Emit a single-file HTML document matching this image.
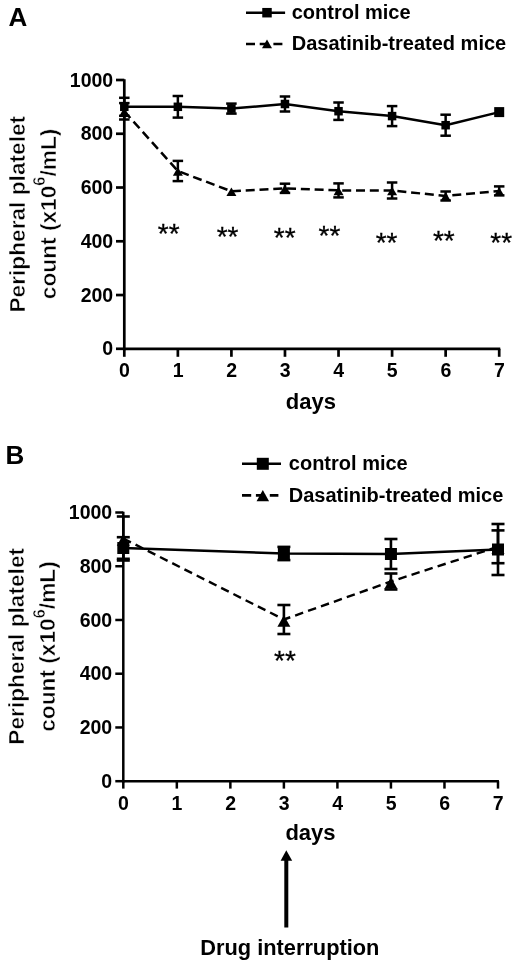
<!DOCTYPE html>
<html><head><meta charset="utf-8"><style>
html,body{margin:0;padding:0;background:#fff;width:520px;height:966px;overflow:hidden}
svg{display:block;filter:grayscale(1)}
text{font-family:"Liberation Sans",sans-serif;font-weight:bold;fill:#000}
</style></head><body>
<svg width="520" height="966" viewBox="0 0 520 966">
<rect width="520" height="966" fill="#fff"/>
<line x1="124.30" y1="79.15" x2="124.30" y2="350.15" stroke="#000" stroke-width="2.7"/>
<line x1="122.95" y1="348.80" x2="500.25" y2="348.80" stroke="#000" stroke-width="2.7"/>
<line x1="116.00" y1="348.80" x2="124.30" y2="348.80" stroke="#000" stroke-width="2.7"/>
<text x="113.20" y="355.40" font-size="19.5" text-anchor="end" >0</text>
<line x1="116.00" y1="295.04" x2="124.30" y2="295.04" stroke="#000" stroke-width="2.7"/>
<text x="113.20" y="301.64" font-size="19.5" text-anchor="end" >200</text>
<line x1="116.00" y1="241.28" x2="124.30" y2="241.28" stroke="#000" stroke-width="2.7"/>
<text x="113.20" y="247.88" font-size="19.5" text-anchor="end" >400</text>
<line x1="116.00" y1="187.52" x2="124.30" y2="187.52" stroke="#000" stroke-width="2.7"/>
<text x="113.20" y="194.12" font-size="19.5" text-anchor="end" >600</text>
<line x1="116.00" y1="133.76" x2="124.30" y2="133.76" stroke="#000" stroke-width="2.7"/>
<text x="113.20" y="140.36" font-size="19.5" text-anchor="end" >800</text>
<line x1="116.00" y1="80.00" x2="124.30" y2="80.00" stroke="#000" stroke-width="2.7"/>
<text x="113.20" y="86.60" font-size="19.5" text-anchor="end" >1000</text>
<line x1="124.30" y1="348.80" x2="124.30" y2="356.80" stroke="#000" stroke-width="2.7"/>
<text x="124.50" y="377.00" font-size="19.5" text-anchor="middle" >0</text>
<line x1="177.86" y1="348.80" x2="177.86" y2="356.80" stroke="#000" stroke-width="2.7"/>
<text x="178.06" y="377.00" font-size="19.5" text-anchor="middle" >1</text>
<line x1="231.41" y1="348.80" x2="231.41" y2="356.80" stroke="#000" stroke-width="2.7"/>
<text x="231.61" y="377.00" font-size="19.5" text-anchor="middle" >2</text>
<line x1="284.97" y1="348.80" x2="284.97" y2="356.80" stroke="#000" stroke-width="2.7"/>
<text x="285.17" y="377.00" font-size="19.5" text-anchor="middle" >3</text>
<line x1="338.53" y1="348.80" x2="338.53" y2="356.80" stroke="#000" stroke-width="2.7"/>
<text x="338.73" y="377.00" font-size="19.5" text-anchor="middle" >4</text>
<line x1="392.09" y1="348.80" x2="392.09" y2="356.80" stroke="#000" stroke-width="2.7"/>
<text x="392.29" y="377.00" font-size="19.5" text-anchor="middle" >5</text>
<line x1="445.64" y1="348.80" x2="445.64" y2="356.80" stroke="#000" stroke-width="2.7"/>
<text x="445.84" y="377.00" font-size="19.5" text-anchor="middle" >6</text>
<line x1="499.20" y1="348.80" x2="499.20" y2="356.80" stroke="#000" stroke-width="2.7"/>
<text x="499.40" y="377.00" font-size="19.5" text-anchor="middle" >7</text>
<text x="310.80" y="408.50" font-size="22" text-anchor="middle" >days</text>
<text x="8.40" y="26.00" font-size="26" text-anchor="start" >A</text>
<text transform="translate(25.00,214.20) rotate(-90)" font-size="22.7" text-anchor="middle" stroke="#fff" stroke-width="0.5">Peripheral platelet</text>
<text transform="translate(55.80,213.90) rotate(-90)" font-size="22.7" text-anchor="middle" stroke="#fff" stroke-width="0.5">count (x10<tspan font-size="16.5" dy="-10.5">6</tspan><tspan dy="10.5">/mL)</tspan></text>
<line x1="246.00" y1="12.70" x2="285.10" y2="12.70" stroke="#000" stroke-width="2.5"/>
<rect x="262.25" y="7.95" width="9.5" height="9.5" fill="#000"/>
<line x1="246.00" y1="43.90" x2="282.40" y2="43.90" stroke="#000" stroke-width="2.5" stroke-dasharray="9 4.7"/>
<polygon points="267.00,39.55 272.00,48.25 262.00,48.25" fill="#000"/>
<text x="291.70" y="18.50" font-size="20" text-anchor="start" >control mice</text>
<text x="291.70" y="50.00" font-size="20" text-anchor="start" >Dasatinib-treated mice</text>
<polyline points="124.30,111.30 177.86,171.00 231.41,191.30 284.97,188.30 338.53,190.40 392.09,190.50 445.64,196.00 499.20,190.90" fill="none" stroke="#000" stroke-width="2.5" stroke-linejoin="round" stroke-dasharray="9 4.8"/>
<polyline points="124.30,106.80 177.86,106.80 231.41,108.60 284.97,104.00 338.53,111.20 392.09,116.10 445.64,125.20 499.20,112.10" fill="none" stroke="#000" stroke-width="2.5" stroke-linejoin="round"/>
<line x1="124.30" y1="103.10" x2="124.30" y2="119.50" stroke="#000" stroke-width="2.5"/>
<line x1="119.05" y1="103.10" x2="129.55" y2="103.10" stroke="#000" stroke-width="2.5"/>
<line x1="119.05" y1="119.50" x2="129.55" y2="119.50" stroke="#000" stroke-width="2.5"/>
<line x1="177.86" y1="160.90" x2="177.86" y2="181.10" stroke="#000" stroke-width="2.5"/>
<line x1="172.61" y1="160.90" x2="183.11" y2="160.90" stroke="#000" stroke-width="2.5"/>
<line x1="172.61" y1="181.10" x2="183.11" y2="181.10" stroke="#000" stroke-width="2.5"/>
<line x1="284.97" y1="183.70" x2="284.97" y2="192.90" stroke="#000" stroke-width="2.5"/>
<line x1="279.72" y1="183.70" x2="290.22" y2="183.70" stroke="#000" stroke-width="2.5"/>
<line x1="279.72" y1="192.90" x2="290.22" y2="192.90" stroke="#000" stroke-width="2.5"/>
<line x1="338.53" y1="183.40" x2="338.53" y2="197.40" stroke="#000" stroke-width="2.5"/>
<line x1="333.28" y1="183.40" x2="343.78" y2="183.40" stroke="#000" stroke-width="2.5"/>
<line x1="333.28" y1="197.40" x2="343.78" y2="197.40" stroke="#000" stroke-width="2.5"/>
<line x1="392.09" y1="182.50" x2="392.09" y2="198.50" stroke="#000" stroke-width="2.5"/>
<line x1="386.84" y1="182.50" x2="397.34" y2="182.50" stroke="#000" stroke-width="2.5"/>
<line x1="386.84" y1="198.50" x2="397.34" y2="198.50" stroke="#000" stroke-width="2.5"/>
<line x1="445.64" y1="191.50" x2="445.64" y2="200.50" stroke="#000" stroke-width="2.5"/>
<line x1="440.39" y1="191.50" x2="450.89" y2="191.50" stroke="#000" stroke-width="2.5"/>
<line x1="440.39" y1="200.50" x2="450.89" y2="200.50" stroke="#000" stroke-width="2.5"/>
<line x1="499.20" y1="186.40" x2="499.20" y2="195.40" stroke="#000" stroke-width="2.5"/>
<line x1="493.95" y1="186.40" x2="504.45" y2="186.40" stroke="#000" stroke-width="2.5"/>
<line x1="493.95" y1="195.40" x2="504.45" y2="195.40" stroke="#000" stroke-width="2.5"/>
<line x1="124.30" y1="97.80" x2="124.30" y2="115.80" stroke="#000" stroke-width="2.5"/>
<line x1="119.05" y1="97.80" x2="129.55" y2="97.80" stroke="#000" stroke-width="2.5"/>
<line x1="119.05" y1="115.80" x2="129.55" y2="115.80" stroke="#000" stroke-width="2.5"/>
<line x1="177.86" y1="96.00" x2="177.86" y2="117.60" stroke="#000" stroke-width="2.5"/>
<line x1="172.61" y1="96.00" x2="183.11" y2="96.00" stroke="#000" stroke-width="2.5"/>
<line x1="172.61" y1="117.60" x2="183.11" y2="117.60" stroke="#000" stroke-width="2.5"/>
<line x1="231.41" y1="103.60" x2="231.41" y2="113.60" stroke="#000" stroke-width="2.5"/>
<line x1="226.16" y1="103.60" x2="236.66" y2="103.60" stroke="#000" stroke-width="2.5"/>
<line x1="226.16" y1="113.60" x2="236.66" y2="113.60" stroke="#000" stroke-width="2.5"/>
<line x1="284.97" y1="96.50" x2="284.97" y2="111.50" stroke="#000" stroke-width="2.5"/>
<line x1="279.72" y1="96.50" x2="290.22" y2="96.50" stroke="#000" stroke-width="2.5"/>
<line x1="279.72" y1="111.50" x2="290.22" y2="111.50" stroke="#000" stroke-width="2.5"/>
<line x1="338.53" y1="102.50" x2="338.53" y2="119.90" stroke="#000" stroke-width="2.5"/>
<line x1="333.28" y1="102.50" x2="343.78" y2="102.50" stroke="#000" stroke-width="2.5"/>
<line x1="333.28" y1="119.90" x2="343.78" y2="119.90" stroke="#000" stroke-width="2.5"/>
<line x1="392.09" y1="106.10" x2="392.09" y2="126.10" stroke="#000" stroke-width="2.5"/>
<line x1="386.84" y1="106.10" x2="397.34" y2="106.10" stroke="#000" stroke-width="2.5"/>
<line x1="386.84" y1="126.10" x2="397.34" y2="126.10" stroke="#000" stroke-width="2.5"/>
<line x1="445.64" y1="114.70" x2="445.64" y2="135.70" stroke="#000" stroke-width="2.5"/>
<line x1="440.39" y1="114.70" x2="450.89" y2="114.70" stroke="#000" stroke-width="2.5"/>
<line x1="440.39" y1="135.70" x2="450.89" y2="135.70" stroke="#000" stroke-width="2.5"/>
<polygon points="124.30,107.55 129.30,116.05 119.30,116.05" fill="#000"/>
<polygon points="177.86,167.25 182.86,175.75 172.86,175.75" fill="#000"/>
<polygon points="231.41,187.55 236.41,196.05 226.41,196.05" fill="#000"/>
<polygon points="284.97,184.55 289.97,193.05 279.97,193.05" fill="#000"/>
<polygon points="338.53,186.65 343.53,195.15 333.53,195.15" fill="#000"/>
<polygon points="392.09,186.75 397.09,195.25 387.09,195.25" fill="#000"/>
<polygon points="445.64,192.25 450.64,200.75 440.64,200.75" fill="#000"/>
<polygon points="499.20,187.15 504.20,195.65 494.20,195.65" fill="#000"/>
<rect x="120.05" y="102.55" width="8.5" height="8.5" fill="#000"/>
<rect x="173.61" y="102.55" width="8.5" height="8.5" fill="#000"/>
<rect x="227.16" y="104.35" width="8.5" height="8.5" fill="#000"/>
<rect x="280.72" y="99.75" width="8.5" height="8.5" fill="#000"/>
<rect x="334.28" y="106.95" width="8.5" height="8.5" fill="#000"/>
<rect x="387.84" y="111.85" width="8.5" height="8.5" fill="#000"/>
<rect x="441.39" y="120.95" width="8.5" height="8.5" fill="#000"/>
<rect x="494.20" y="107.10" width="10" height="10" fill="#000"/>
<text x="168.75" y="242.50" font-size="28" text-anchor="middle" font-weight="normal" style="font-weight:normal" stroke="#000" stroke-width="0.3">**</text>
<text x="227.60" y="245.90" font-size="28" text-anchor="middle" font-weight="normal" style="font-weight:normal" stroke="#000" stroke-width="0.3">**</text>
<text x="284.70" y="247.10" font-size="28" text-anchor="middle" font-weight="normal" style="font-weight:normal" stroke="#000" stroke-width="0.3">**</text>
<text x="329.50" y="245.20" font-size="28" text-anchor="middle" font-weight="normal" style="font-weight:normal" stroke="#000" stroke-width="0.3">**</text>
<text x="386.60" y="251.70" font-size="28" text-anchor="middle" font-weight="normal" style="font-weight:normal" stroke="#000" stroke-width="0.3">**</text>
<text x="443.85" y="250.40" font-size="28" text-anchor="middle" font-weight="normal" style="font-weight:normal" stroke="#000" stroke-width="0.3">**</text>
<text x="501.25" y="251.70" font-size="28" text-anchor="middle" font-weight="normal" style="font-weight:normal" stroke="#000" stroke-width="0.3">**</text>
<line x1="123.30" y1="511.75" x2="123.30" y2="782.45" stroke="#000" stroke-width="2.5"/>
<line x1="122.05" y1="781.20" x2="498.95" y2="781.20" stroke="#000" stroke-width="2.5"/>
<line x1="115.30" y1="781.20" x2="123.30" y2="781.20" stroke="#000" stroke-width="2.5"/>
<text x="112.20" y="787.80" font-size="19.5" text-anchor="end" >0</text>
<line x1="115.30" y1="727.46" x2="123.30" y2="727.46" stroke="#000" stroke-width="2.5"/>
<text x="112.20" y="734.06" font-size="19.5" text-anchor="end" >200</text>
<line x1="115.30" y1="673.72" x2="123.30" y2="673.72" stroke="#000" stroke-width="2.5"/>
<text x="112.20" y="680.32" font-size="19.5" text-anchor="end" >400</text>
<line x1="115.30" y1="619.98" x2="123.30" y2="619.98" stroke="#000" stroke-width="2.5"/>
<text x="112.20" y="626.58" font-size="19.5" text-anchor="end" >600</text>
<line x1="115.30" y1="566.24" x2="123.30" y2="566.24" stroke="#000" stroke-width="2.5"/>
<text x="112.20" y="572.84" font-size="19.5" text-anchor="end" >800</text>
<line x1="115.30" y1="512.50" x2="123.30" y2="512.50" stroke="#000" stroke-width="2.5"/>
<text x="112.20" y="519.10" font-size="19.5" text-anchor="end" >1000</text>
<line x1="123.30" y1="781.20" x2="123.30" y2="788.60" stroke="#000" stroke-width="2.5"/>
<text x="123.50" y="809.50" font-size="19.5" text-anchor="middle" >0</text>
<line x1="176.83" y1="781.20" x2="176.83" y2="788.60" stroke="#000" stroke-width="2.5"/>
<text x="177.03" y="809.50" font-size="19.5" text-anchor="middle" >1</text>
<line x1="230.36" y1="781.20" x2="230.36" y2="788.60" stroke="#000" stroke-width="2.5"/>
<text x="230.56" y="809.50" font-size="19.5" text-anchor="middle" >2</text>
<line x1="283.89" y1="781.20" x2="283.89" y2="788.60" stroke="#000" stroke-width="2.5"/>
<text x="284.09" y="809.50" font-size="19.5" text-anchor="middle" >3</text>
<line x1="337.41" y1="781.20" x2="337.41" y2="788.60" stroke="#000" stroke-width="2.5"/>
<text x="337.61" y="809.50" font-size="19.5" text-anchor="middle" >4</text>
<line x1="390.94" y1="781.20" x2="390.94" y2="788.60" stroke="#000" stroke-width="2.5"/>
<text x="391.14" y="809.50" font-size="19.5" text-anchor="middle" >5</text>
<line x1="444.47" y1="781.20" x2="444.47" y2="788.60" stroke="#000" stroke-width="2.5"/>
<text x="444.67" y="809.50" font-size="19.5" text-anchor="middle" >6</text>
<line x1="498.00" y1="781.20" x2="498.00" y2="788.60" stroke="#000" stroke-width="2.5"/>
<text x="498.20" y="809.50" font-size="19.5" text-anchor="middle" >7</text>
<text x="310.50" y="839.70" font-size="22" text-anchor="middle" >days</text>
<text x="5.40" y="463.60" font-size="26" text-anchor="start" >B</text>
<text transform="translate(24.30,646.30) rotate(-90)" font-size="22.7" text-anchor="middle" stroke="#fff" stroke-width="0.5">Peripheral platelet</text>
<text transform="translate(55.30,646.50) rotate(-90)" font-size="22.7" text-anchor="middle" stroke="#fff" stroke-width="0.5">count (x10<tspan font-size="16.5" dy="-10.5">6</tspan><tspan dy="10.5">/mL)</tspan></text>
<line x1="242.00" y1="463.80" x2="281.00" y2="463.80" stroke="#000" stroke-width="2.6"/>
<rect x="256.80" y="457.80" width="12" height="12" fill="#000"/>
<line x1="242.00" y1="495.40" x2="278.40" y2="495.40" stroke="#000" stroke-width="2.6" stroke-dasharray="9.2 4.7"/>
<polygon points="262.80,490.00 269.05,501.20 256.55,501.20" fill="#000"/>
<text x="288.80" y="470.00" font-size="20" text-anchor="start" >control mice</text>
<text x="288.80" y="501.70" font-size="20" text-anchor="start" >Dasatinib-treated mice</text>
<polyline points="123.30,538.50 283.89,619.50 390.94,581.50 498.00,546.80" fill="none" stroke="#000" stroke-width="2.4" stroke-linejoin="round" stroke-dasharray="8.5 5.2"/>
<polyline points="123.30,548.00 283.89,553.50 390.94,554.00 498.00,549.50" fill="none" stroke="#000" stroke-width="2.6" stroke-linejoin="round"/>
<line x1="123.30" y1="516.50" x2="123.30" y2="560.50" stroke="#000" stroke-width="2.6"/>
<line x1="116.80" y1="516.50" x2="129.80" y2="516.50" stroke="#000" stroke-width="2.6"/>
<line x1="116.80" y1="560.50" x2="129.80" y2="560.50" stroke="#000" stroke-width="2.6"/>
<line x1="283.89" y1="605.00" x2="283.89" y2="634.00" stroke="#000" stroke-width="2.6"/>
<line x1="277.39" y1="605.00" x2="290.39" y2="605.00" stroke="#000" stroke-width="2.6"/>
<line x1="277.39" y1="634.00" x2="290.39" y2="634.00" stroke="#000" stroke-width="2.6"/>
<line x1="390.94" y1="573.50" x2="390.94" y2="589.50" stroke="#000" stroke-width="2.6"/>
<line x1="384.44" y1="573.50" x2="397.44" y2="573.50" stroke="#000" stroke-width="2.6"/>
<line x1="384.44" y1="589.50" x2="397.44" y2="589.50" stroke="#000" stroke-width="2.6"/>
<line x1="498.00" y1="530.40" x2="498.00" y2="563.20" stroke="#000" stroke-width="2.6"/>
<line x1="491.50" y1="530.40" x2="504.50" y2="530.40" stroke="#000" stroke-width="2.6"/>
<line x1="491.50" y1="563.20" x2="504.50" y2="563.20" stroke="#000" stroke-width="2.6"/>
<line x1="123.30" y1="537.20" x2="123.30" y2="558.80" stroke="#000" stroke-width="2.6"/>
<line x1="116.80" y1="537.20" x2="129.80" y2="537.20" stroke="#000" stroke-width="2.6"/>
<line x1="116.80" y1="558.80" x2="129.80" y2="558.80" stroke="#000" stroke-width="2.6"/>
<line x1="283.89" y1="546.90" x2="283.89" y2="560.10" stroke="#000" stroke-width="2.6"/>
<line x1="277.39" y1="546.90" x2="290.39" y2="546.90" stroke="#000" stroke-width="2.6"/>
<line x1="277.39" y1="560.10" x2="290.39" y2="560.10" stroke="#000" stroke-width="2.6"/>
<line x1="390.94" y1="539.00" x2="390.94" y2="569.00" stroke="#000" stroke-width="2.6"/>
<line x1="384.44" y1="539.00" x2="397.44" y2="539.00" stroke="#000" stroke-width="2.6"/>
<line x1="384.44" y1="569.00" x2="397.44" y2="569.00" stroke="#000" stroke-width="2.6"/>
<line x1="498.00" y1="524.00" x2="498.00" y2="575.00" stroke="#000" stroke-width="2.6"/>
<line x1="491.50" y1="524.00" x2="504.50" y2="524.00" stroke="#000" stroke-width="2.6"/>
<line x1="491.50" y1="575.00" x2="504.50" y2="575.00" stroke="#000" stroke-width="2.6"/>
<polygon points="123.30,534.25 129.80,545.75 116.80,545.75" fill="#000"/>
<polygon points="283.89,615.25 290.39,626.75 277.39,626.75" fill="#000"/>
<polygon points="390.94,577.25 397.44,588.75 384.44,588.75" fill="#000"/>
<polygon points="498.00,542.55 504.50,554.05 491.50,554.05" fill="#000"/>
<rect x="117.30" y="542.00" width="12" height="12" fill="#000"/>
<rect x="277.89" y="547.50" width="12" height="12" fill="#000"/>
<rect x="384.94" y="548.00" width="12" height="12" fill="#000"/>
<rect x="492.00" y="543.50" width="12" height="12" fill="#000"/>
<text x="285.00" y="670.40" font-size="28" text-anchor="middle" font-weight="normal" style="font-weight:normal" stroke="#000" stroke-width="0.3">**</text>
<rect x="284.3" y="859" width="4" height="68.5" fill="#000"/>
<polygon points="286.3,850.2 292.2,860.8 280.6,860.8" fill="#000"/>
<text x="289.85" y="955.20" font-size="21.8" text-anchor="middle" >Drug interruption</text>
</svg>
</body></html>
